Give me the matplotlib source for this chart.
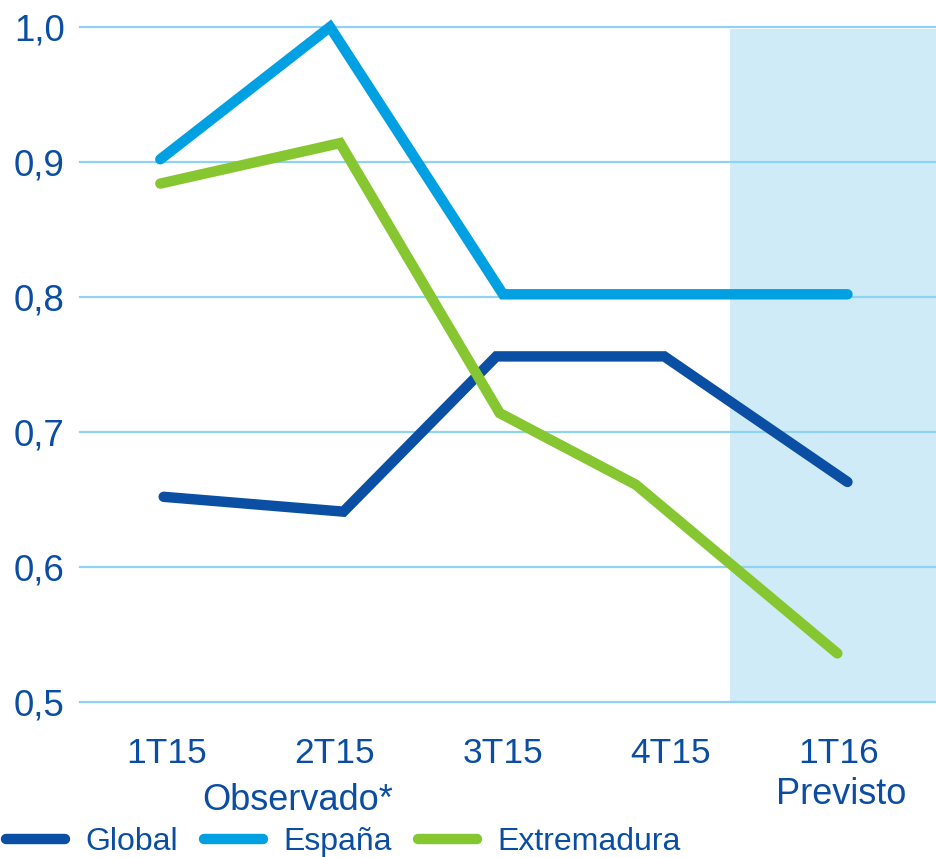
import matplotlib.pyplot as plt

plt.rcParams['font.family'] = ['Liberation Sans', 'DejaVu Sans']

# categorias (trimestres)
categorias = ['1T15', '2T15', '3T15', '4T15', '1T16']

# posiciones de cada serie en unidades de categoria (el original no cae exacto en la marca)
x_global = [-0.02, 1.05, 1.96, 2.96, 4.05]
x_espana = [-0.04, 0.97, 2.00, 3.00, 4.05]
x_extrem = [-0.04, 1.03, 1.98, 2.79, 3.99]

global_ = [0.652, 0.641, 0.756, 0.756, 0.663]
espana = [0.902, 1.000, 0.802, 0.802, 0.802]
extremadura = [0.884, 0.914, 0.714, 0.661, 0.536]

azul_texto = '#0B4DA2'
c_global = '#0A4FA3'
c_espana = '#00A0E3'
c_extrem = '#86C731'

fig = plt.figure(figsize=(9.36, 8.57), dpi=100)
ax = fig.add_axes([80/936, 155/857, 856/936, 675/857])

ax.set_xlim(-0.518, 4.577)
ax.set_ylim(0.5, 1.0)

# zona prevista sombreada
ax.axvspan(3.35, 4.577, ymin=0, ymax=0.997, color='#CFEBF8', lw=0, zorder=0.2)

for y in [0.5, 0.6, 0.7, 0.8, 0.9, 1.0]:
    ax.axhline(y, color='#8FD3F2', lw=1.6, zorder=0.5, clip_on=False)

kw = dict(lw=7.5, solid_capstyle='round', solid_joinstyle='miter', clip_on=False, zorder=3)
ax.plot(x_global, global_, color=c_global, label='Global', **kw)
ax.plot(x_espana, espana, color=c_espana, label='España', **kw)
ax.plot(x_extrem, extremadura, color=c_extrem, label='Extremadura', **kw)

for s in ax.spines.values():
    s.set_visible(False)

ax.set_xticks(range(len(categorias)))
ax.set_xticklabels(categorias)
ax.set_yticks([0.5, 0.6, 0.7, 0.8, 0.9, 1.0])
ax.set_yticklabels(['0,5', '0,6', '0,7', '0,8', '0,9', '1,0'])
ax.tick_params(axis='x', length=0, pad=25, labelsize=25.5, labelcolor=azul_texto)
ax.tick_params(axis='y', length=0, pad=11, labelsize=26.5, labelcolor=azul_texto)

fig.text(298/936, 1 - 801/857, 'Observado*', ha='center', va='center',
         fontsize=26, color=azul_texto)
fig.text(841/936, 1 - 794/857, 'Previsto', ha='center', va='center',
         fontsize=26, color=azul_texto)

fig.legend(loc='center left', bbox_to_anchor=(0.006, 1 - 842/857), ncol=3,
           frameon=False, fontsize=23, labelcolor=azul_texto,
           handlelength=1.85, handletextpad=0.65, columnspacing=0.8,
           borderpad=0, borderaxespad=0)

plt.savefig('out.png', dpi=100)
